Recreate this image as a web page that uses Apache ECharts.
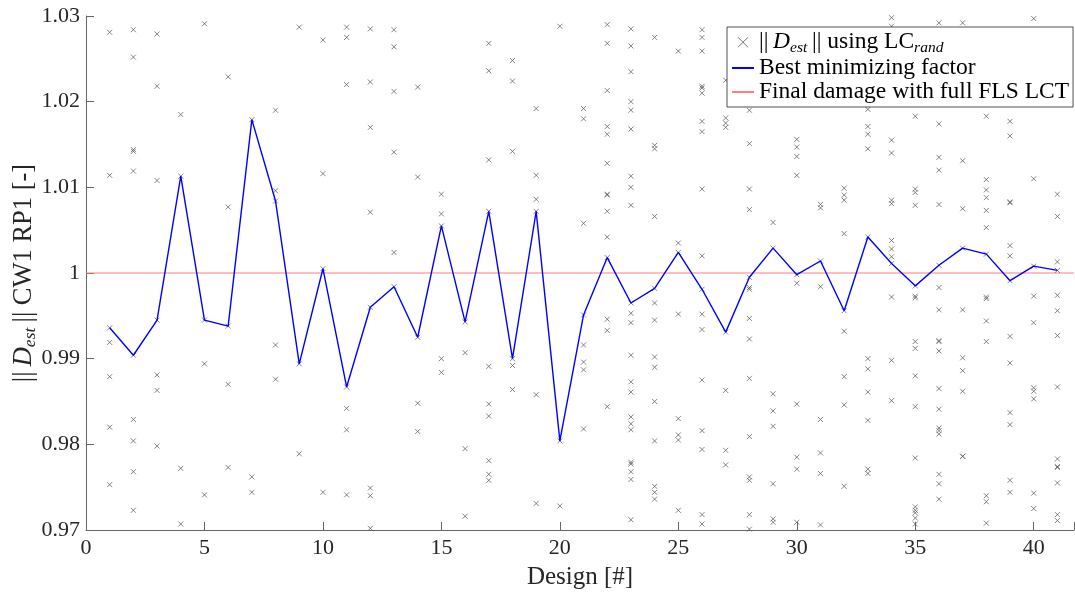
<!DOCTYPE html>
<html>
<head>
<meta charset="utf-8">
<script src="https://cdn.jsdelivr.net/npm/echarts@6/dist/echarts.min.js"></script>
<style>html,body{margin:0;padding:0;background:#fff}#c{width:1075px;height:594px}</style>
</head>
<body>
<div id="c"></div>
<script>
// Designs (x categories)
const designs = [1,2,3,4,5,6,7,8,9,10,11,12,13,14,15,16,17,18,19,20,21,22,23,24,25,26,27,28,29,30,31,32,33,34,35,36,37,38,39,40,41];

// || D_est || using LC_rand (per design)
const estimates = [
  [1.0281,1.0114,0.9936,0.9919,0.9879,0.9820,0.9753],
  [1.0284,1.0252,1.0144,1.0142,1.0119,0.9904,0.9829,0.9804,0.9768,0.9723],
  [1.0279,1.0218,1.0108,0.9945,0.9881,0.9863,0.9798],
  [1.0185,1.0113,0.9772,0.9707],
  [1.0291,0.9945,0.9894,0.9741],
  [1.0229,1.0077,0.9938,0.9870,0.9773],
  [1.0179,0.9762,0.9744],
  [1.0190,1.0096,1.0084,0.9916,0.9876],
  [1.0287,0.9894,0.9789],
  [1.0272,1.0116,1.0005,0.9744],
  [1.0287,1.0275,1.0220,0.9867,0.9842,0.9817,0.9741],
  [1.0285,1.0223,1.0170,1.0071,0.9960,0.9749,0.9740,0.9702],
  [1.0284,1.0264,1.0212,1.0141,1.0024,0.9984],
  [1.0217,1.0112,0.9925,0.9848,0.9815],
  [1.0092,1.0069,1.0055,0.9900,0.9884],
  [0.9943,0.9907,0.9795,0.9716],
  [1.0268,1.0236,1.0132,1.0072,0.9891,0.9847,0.9833,0.9781,0.9765,0.9758],
  [1.0248,1.0224,1.0142,0.9900,0.9892,0.9864],
  [1.0192,1.0114,1.0086,1.0072,0.9858,0.9731],
  [1.0288,0.9804,0.9728],
  [1.0192,1.0180,1.0058,0.9951,0.9916,0.9896,0.9887,0.9818],
  [1.0290,1.0268,1.0213,1.0171,1.0162,1.0128,1.0092,1.0091,1.0072,1.0042,1.0018,0.9946,0.9933,0.9844],
  [1.0285,1.0265,1.0235,1.0200,1.0190,1.0168,1.0113,1.0100,1.0079,0.9965,0.9953,0.9942,0.9904,0.9873,0.9861,0.9832,0.9824,0.9817,0.9779,0.9777,0.9768,0.9759,0.9712],
  [1.0275,1.0149,1.0145,1.0066,0.9982,0.9965,0.9945,0.9902,0.9890,0.9850,0.9804,0.9751,0.9744,0.9736],
  [1.0259,1.0035,1.0024,0.9952,0.9830,0.9811,0.9805,0.9723],
  [1.0284,1.0275,1.0259,1.0218,1.0216,1.0210,1.0177,1.0165,1.0098,1.0020,0.9981,0.9952,0.9934,0.9875,0.9816,0.9794,0.9718,0.9707],
  [1.0225,1.0181,1.0175,1.0170,0.9931,0.9863,0.9793,0.9776],
  [1.0190,1.0151,1.0098,1.0074,0.9995,0.9983,0.9981,0.9947,0.9923,0.9877,0.9809,0.9762,0.9758,0.9718,0.9701],
  [1.0059,1.0029,0.9859,0.9839,0.9821,0.9754,0.9713,0.9709],
  [1.0156,1.0147,1.0136,1.0114,0.9998,0.9988,0.9847,0.9785,0.9771,0.9709],
  [1.0080,1.0076,1.0014,0.9984,0.9829,0.9790,0.9766,0.9706],
  [1.0099,1.0091,1.0085,1.0046,0.9956,0.9932,0.9879,0.9846,0.9751],
  [1.0191,1.0171,1.0162,1.0145,1.0042,0.9900,0.9888,0.9861,0.9828,0.9771,0.9766],
  [1.0298,1.0288,1.0155,1.0140,1.0085,1.0081,1.0038,1.0028,1.0019,1.0011,0.9972,0.9898,0.9851],
  [1.0183,1.0098,1.0094,1.0079,0.9985,0.9973,0.9971,0.9920,0.9912,0.9880,0.9844,0.9784,0.9727,0.9723,0.9720,0.9714,0.9707],
  [1.0292,1.0174,1.0135,1.0120,1.0080,1.0009,0.9983,0.9957,0.9921,0.9920,0.9909,0.9865,0.9841,0.9819,0.9816,0.9812,0.9765,0.9754,0.9736],
  [1.0292,1.0131,1.0075,1.0029,0.9957,0.9901,0.9886,0.9862,0.9786,0.9786],
  [1.0183,1.0109,1.0097,1.0088,1.0073,1.0053,1.0022,0.9972,0.9970,0.9944,0.9920,0.9740,0.9733,0.9708],
  [1.0177,1.0160,1.0083,1.0082,1.0032,1.0020,0.9991,0.9926,0.9895,0.9837,0.9823,0.9758,0.9744],
  [1.0297,1.0110,1.0008,0.9973,0.9942,0.9866,0.9862,0.9853,0.9743,0.9725],
  [1.0092,1.0066,1.0013,1.0003,0.9974,0.9956,0.9927,0.9867,0.9783,0.9774,0.9773,0.9755,0.9718,0.9711]
];

// Best minimizing factor
const best = [0.9936,0.9904,0.9945,1.0113,0.9945,0.9938,1.0179,1.0084,0.9894,1.0005,0.9867,0.9960,0.9984,0.9925,1.0055,0.9943,1.0072,0.9900,1.0072,0.9804,0.9951,1.0018,0.9965,0.9982,1.0024,0.9981,0.9931,0.9995,1.0029,0.9998,1.0014,0.9956,1.0042,1.0011,0.9985,1.0009,1.0029,1.0022,0.9991,1.0008,1.0003];

// Final damage with full FLS LCT
const finalDamage = 1.0;

const xMin = 0, xMax = 41.7, xInterval = 5;
const yMin = 0.97, yMax = 1.03, yInterval = 0.01;

const names = ['est', 'Best minimizing factor', 'Final damage with full FLS LCT'];

const scatterData = [];
designs.forEach((d, i) => estimates[i].forEach(v => scatterData.push([d, v])));
const bestData = designs.map((d, i) => [d, best[i]]);
const redData = [[xMin, finalDamage], [xMax, finalDamage]];

const FONT = 'Liberation Serif';
const TXT = '#262626';
const XPATH = 'path://M0,0L10,10M10,0L0,10';

function richSet(size, sub, color, lh) {
  return {
    n: {fontFamily: FONT, fontSize: size, color: color, lineHeight: lh},
    i: {fontFamily: FONT, fontSize: size, fontStyle: 'italic', color: color, lineHeight: lh},
    s: {fontFamily: FONT, fontSize: sub, fontStyle: 'italic', color: color, verticalAlign: 'bottom', lineHeight: lh, padding: [Math.round(size * 0.45), 0, 0, 0]}
  };
}

const chart = echarts.init(document.getElementById('c'), null, {renderer: 'canvas'});
chart.setOption({
  animation: false,
  backgroundColor: '#fff',
  grid: {left: 86, right: 1, top: 16, bottom: 64, containLabel: false, outerBoundsMode: 'none'},
  legend: {
    orient: 'vertical',
    left: 727, top: 27,
    backgroundColor: '#fff',
    borderColor: '#262626', borderWidth: 0.8,
    padding: [2, 4, 3, 4],
    itemWidth: 22, itemHeight: 10, itemGap: 0,
    data: [
      {name: names[0], icon: XPATH, itemStyle: {color: 'none', borderColor: '#555', borderWidth: 1}},
      {name: names[1], itemStyle: {opacity: 0}},
      {name: names[2], itemStyle: {opacity: 0}}
    ],
    formatter: function (n) {
      if (n === 'est') return '{n|||\u2009}{i|D}{s|est}{n|\u2009|| using LC}{s|rand}';
      return '{n|' + n + '}';
    },
    textStyle: {
      fontFamily: FONT, fontSize: 23.5, color: '#000',
      rich: richSet(23.5, 15.5, '#000', 27.5)
    }
  },
  xAxis: {
    type: 'value', min: xMin, max: xMax, interval: xInterval,
    name: 'Design [#]', nameLocation: 'middle', nameGap: 35, nameMoveOverlap: false,
    nameTextStyle: {fontFamily: FONT, fontSize: 25, color: TXT},
    axisLine: {show: true, lineStyle: {color: '#666', width: 1}},
    axisTick: {show: true, inside: true, length: 8, lineStyle: {color: '#666'}},
    axisLabel: {fontFamily: FONT, fontSize: 22, color: TXT, margin: 7,
      formatter: v => (Math.abs(v % 5) < 1e-9 ? String(v) : '')},
    splitLine: {show: false}
  },
  yAxis: {
    type: 'value', min: yMin, max: yMax, interval: yInterval,
    name: '{n|||\u2009}{i|D}{s|est}{n|\u2009|| CW1 RP1 [-]}',
    nameLocation: 'middle', nameGap: 47, nameMoveOverlap: false,
    nameTextStyle: {
      fontFamily: FONT, fontSize: 26.5, color: TXT,
      rich: richSet(26.5, 17.5, TXT, 30)
    },
    axisLine: {show: true, lineStyle: {color: '#666', width: 1}},
    axisTick: {show: true, inside: true, length: 8, lineStyle: {color: '#666'}},
    axisLabel: {fontFamily: FONT, fontSize: 22, color: TXT, margin: 6,
      formatter: v => String(Number(v.toFixed(2)))},
    splitLine: {show: false}
  },
  series: [
    {
      name: names[0], type: 'scatter', data: scatterData,
      symbol: XPATH, symbolSize: 5,
      itemStyle: {color: 'none', borderColor: '#555', borderWidth: 0.9},
      z: 3
    },
    {
      name: names[1], type: 'line', data: bestData,
      symbol: 'none', lineStyle: {color: '#0000ff', width: 1.4}, itemStyle: {color: '#0000ff'},
      z: 4
    },
    {
      name: names[2], type: 'line', data: redData,
      symbol: 'none', lineStyle: {color: '#ff7f7f', width: 1.2}, itemStyle: {color: '#ff7f7f'},
      z: 2
    }
  ]
});
</script>
</body>
</html>
